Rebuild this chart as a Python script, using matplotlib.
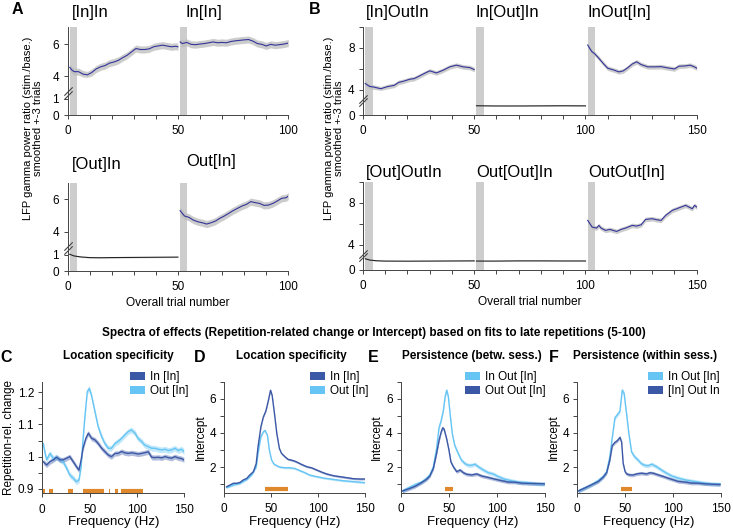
import numpy as np
import matplotlib.pyplot as plt
import matplotlib.transforms as mtrans
from matplotlib.patches import Patch

plt.rcParams['font.family'] = ['Liberation Sans', 'DejaVu Sans']

# ---------------- data: trial-by-trial gamma ratio (A, B) ----------------
# A, top row
a_inin_t = [1, 2, 3, 5, 7, 9, 11, 13, 15, 17, 19, 21, 23, 25, 27, 29, 31, 33, 35, 37, 39, 41, 43, 45, 47, 49, 50]
a_inin_v = [4.57, 4.4, 4.3, 4.3, 4.15, 4.1, 4.25, 4.47, 4.6, 4.68, 4.83, 4.9, 5.0, 5.17, 5.32, 5.53, 5.74,
            5.68, 5.68, 5.72, 5.85, 5.9, 5.95, 5.9, 5.85, 5.88, 5.85]
a_in_in2_t = [51, 52, 54, 56, 58, 60, 62, 64, 66, 68, 70, 72, 74, 76, 78, 80, 82, 84, 86, 88, 90, 92, 94, 96, 98, 100]
a_in_in2_v = [6.15, 6.05, 6.12, 6.0, 5.98, 6.02, 6.05, 6.1, 6.15, 6.1, 6.12, 6.1, 6.18, 6.22, 6.25, 6.28,
              6.3, 6.2, 6.05, 6.0, 5.9, 6.0, 5.95, 5.98, 6.02, 6.08]
# A, bottom row
a_outin_t = [1, 3, 6, 10, 15, 20, 30, 40, 50]
a_outin_v = [1.05, 0.92, 0.86, 0.82, 0.81, 0.82, 0.83, 0.84, 0.85]
a_out_in2_t = [51, 52, 53, 55, 57, 59, 61, 63, 65, 67, 69, 71, 73, 75, 77, 79, 81, 83, 85, 87, 89, 91, 93, 95, 97, 99, 100]
a_out_in2_v = [5.29, 5.12, 4.96, 4.88, 4.71, 4.61, 4.55, 4.47, 4.55, 4.65, 4.82, 4.96, 5.12, 5.29, 5.43,
               5.57, 5.67, 5.84, 5.78, 5.73, 5.61, 5.63, 5.73, 5.88, 6.04, 6.08, 6.18]
# B, top row
b_inoutin_t = [1, 2, 3, 5, 8, 11, 14, 16, 18, 21, 23, 26, 28, 30, 33, 36, 39, 42, 45, 48, 50]
b_inoutin_v = [4.6, 4.45, 4.32, 4.25, 4.1, 4.3, 4.42, 4.7, 4.8, 5.0, 5.06, 5.38, 5.6, 5.8, 5.6, 5.86,
               6.18, 6.34, 6.18, 6.11, 5.92]
b_in_out_in_t = [51, 60, 70, 80, 90, 100]
b_in_out_in_v = [0.88, 0.86, 0.86, 0.87, 0.88, 0.87]
b_inout_in_t = [101, 102, 103, 104, 106, 108, 110, 113, 115, 117, 119, 121, 123, 125, 128, 131, 134, 137,
                140, 142, 145, 147, 149, 150]
b_inout_in_v = [8.26, 7.9, 7.6, 7.46, 7.0, 6.5, 6.05, 5.86, 5.7, 5.8, 6.1, 6.45, 6.66, 6.4, 6.18, 6.18,
                6.2, 6.08, 5.98, 6.24, 6.27, 6.34, 6.18, 6.05]
# B, bottom row
b_outoutin_t = [1, 3, 6, 10, 20, 30, 40, 50]
b_outoutin_v = [1.15, 0.95, 0.88, 0.85, 0.84, 0.85, 0.86, 0.87]
b_out_out_in_t = [51, 60, 70, 80, 90, 100]
b_out_out_in_v = [0.85, 0.85, 0.87, 0.87, 0.86, 0.86]
b_outout_in_t = [101, 103, 105, 106, 107, 109, 111, 114, 116, 118, 121, 123, 125, 127, 130, 132, 134, 136,
                 139, 141, 143, 145, 148, 149, 150]
b_outout_in_v = [6.32, 5.68, 5.59, 5.84, 5.59, 5.37, 5.46, 5.27, 5.46, 5.59, 5.84, 5.78, 5.9, 6.41, 6.48,
                 6.38, 6.32, 6.79, 7.27, 7.43, 7.59, 7.75, 7.43, 7.75, 7.59]

stim_bars = [(1, 4.3), (51, 54.3), (101, 104.3)]

# ---------------- data: spectra (C-F) ----------------
c_in_f = [1, 4.6, 8, 11.6, 15, 18.7, 22, 25.7, 29, 32.7, 36, 38.7, 41, 43, 46, 48.6, 52, 55.6, 59, 62.7,
          66, 69.7, 73, 76.8, 80, 83.8, 87, 90.8, 94, 98, 101, 105, 108, 112, 115.5, 119, 122.5, 126,
          129.6, 133, 136.6, 140, 143.6, 147, 149.6]
c_in_v = [0.984, 0.974, 0.984, 0.99, 0.998, 0.99, 0.99, 0.995, 1.0, 0.984, 0.969, 0.958, 0.99, 1.026,
          1.057, 1.073, 1.057, 1.052, 1.041, 1.026, 1.016, 1.005, 1.0, 1.01, 1.01, 1.016, 1.012, 1.01,
          1.012, 1.01, 1.008, 1.01, 1.012, 1.015, 0.998, 0.997, 0.998, 0.996, 1.0, 0.997, 0.995, 1.0,
          0.996, 0.994, 0.99]
c_out_f = [1, 3, 4.6, 8, 11.6, 15, 18.7, 22, 25.7, 29, 32.7, 36, 38.7, 41, 43, 45, 47.5, 49.6, 52, 55.6,
           59, 62.7, 66, 69.7, 73, 76.8, 80, 83.8, 87, 90.8, 94, 98, 101, 105, 108, 112, 115.5, 119,
           122.5, 126, 129.6, 133, 136.6, 140, 143.6, 147, 149.6]
c_out_v = [1.04, 1.01, 0.99, 1.01, 0.995, 0.998, 0.99, 0.984, 0.964, 0.943, 0.933, 0.922, 0.927, 0.969,
           1.052, 1.124, 1.202, 1.212, 1.19, 1.14, 1.093, 1.062, 1.041, 1.026, 1.026, 1.041, 1.047,
           1.057, 1.067, 1.078, 1.083, 1.073, 1.057, 1.047, 1.036, 1.031, 1.026, 1.026, 1.023, 1.021,
           1.023, 1.019, 1.021, 1.026, 1.019, 1.023, 1.016]
c_sig = [(1, 3), (7.5, 11), (27, 32), (43, 65), (70, 71), (77, 80), (83, 106)]

d_in_f = [2.5, 6, 9.6, 13, 16.7, 20, 24, 27, 31, 34, 36, 39, 41.6, 44.4, 47, 49.3, 51, 53.5, 56, 58.7,
          61, 64.7, 68, 72, 75, 79, 82.5, 88, 93, 98.5, 104, 109, 116, 123, 130.5, 137.6, 144.7, 149.3]
d_in_v = [0.85, 0.95, 1.05, 1.05, 1.1, 1.24, 1.34, 1.53, 1.73, 2.2, 3.2, 4.35, 4.93, 5.3, 5.9, 6.5, 6.2,
          5.13, 3.96, 3.09, 2.8, 2.6, 2.45, 2.4, 2.35, 2.25, 2.15, 2.02, 1.96, 1.83, 1.7, 1.6, 1.5, 1.44,
          1.38, 1.32, 1.3, 1.3]
d_out_f = [2.5, 9.6, 16.7, 24, 29, 34, 36, 39, 41.6, 43.4, 46, 48, 50.5, 53, 56, 59, 64.7, 70, 75, 80.7,
           86, 91, 98.5, 105.6, 116, 127, 137.6, 149.3]
d_out_v = [0.8, 0.95, 1.05, 1.28, 1.53, 2.0, 2.8, 3.77, 4.06, 4.15, 3.86, 3.0, 2.4, 2.17, 2.08, 2.0, 1.96,
           1.96, 1.92, 1.79, 1.67, 1.53, 1.44, 1.36, 1.28, 1.2, 1.15, 1.09]
d_sig = [(43, 68)]

e_io_f = [1.4, 7.6, 14.6, 21.5, 26.7, 30, 33.7, 37, 39.6, 41.7, 44, 46, 47.6, 49.3, 51.4, 53.5, 56, 59.7,
          63, 66.7, 70, 73.6, 77, 80.5, 85.8, 91, 96, 101, 108, 115, 122, 129, 136, 143, 149.3]
e_io_v = [0.6, 0.78, 0.97, 1.12, 1.35, 1.54, 2.02, 3.07, 4.3, 4.7, 5.27, 6.13, 6.5, 6.13, 4.98, 3.93,
          3.26, 2.78, 2.4, 2.2, 2.11, 2.11, 2.17, 2.02, 1.83, 1.67, 1.6, 1.45, 1.29, 1.2, 1.12, 1.1, 1.06,
          1.02, 1.0]
e_oo_f = [1.4, 7.6, 14.6, 21.5, 26.7, 30, 33.7, 37, 39.6, 41.7, 43.4, 45, 47.6, 50, 52, 54.5, 58, 61.5,
          65, 68.4, 73.6, 78.8, 84, 91, 98, 105, 111.8, 118.8, 125.7, 136, 149.3]
e_oo_v = [0.6, 0.72, 0.87, 1.1, 1.29, 1.48, 1.92, 2.78, 3.55, 4.03, 4.3, 4.2, 3.64, 2.98, 2.3, 2.02, 1.73,
          1.83, 1.67, 1.58, 1.54, 1.6, 1.48, 1.39, 1.29, 1.2, 1.12, 1.12, 1.06, 1.04, 1.02]
e_sig = [(45.8, 54.5)]

f_io_f = [1, 8, 15, 22, 27, 30.7, 34, 36.6, 39.4, 42, 44.6, 47, 49, 51.6, 54, 56.8, 60, 63.8, 67, 70.8,
          74, 77.8, 83, 88, 93.5, 98.7, 105.7, 112.7, 119.6, 126.6, 133.6, 140.6, 149.3]
f_io_v = [0.6, 0.78, 0.97, 1.22, 1.45, 1.73, 2.6, 3.74, 4.89, 5.08, 5.27, 6.51, 6.3, 5.08, 3.93, 2.88,
          2.6, 2.4, 2.2, 2.1, 2.08, 2.17, 2.02, 1.83, 1.64, 1.48, 1.35, 1.25, 1.18, 1.12, 1.06, 1.02, 1.0]
f_ioi_f = [1, 8, 15, 22, 27, 30.7, 34, 36.6, 39.4, 42, 44.6, 46.4, 48, 50, 51.6, 55, 58.6, 62, 67, 72.5,
           76, 79.5, 84.8, 90, 95, 100.5, 105.7, 112.7, 119.6, 126.6, 133.6, 140.6, 149.3]
f_ioi_v = [0.6, 0.78, 0.97, 1.16, 1.41, 1.67, 2.4, 3.26, 3.45, 3.55, 3.74, 3.45, 2.21, 1.73, 1.6, 1.54,
           1.54, 1.6, 1.64, 1.6, 1.67, 1.64, 1.54, 1.45, 1.35, 1.25, 1.16, 1.12, 1.06, 1.06, 1.02, 1.0, 0.98]
f_sig = [(45.7, 56.8)]

# ---------------- style ----------------
LINE = '#34349a'
BAND = '#bcbcbc'
BAR = '#cdcdcd'
DARK = '#3b58a6'
LIGHT = '#66c5f4'
ORANGE = '#e0892c'
AX = '#444444'

W, H = 733, 530
fig = plt.figure(figsize=(W / 100, H / 100), dpi=100)


def box(l, t, r, b):
    return fig.add_axes([l / W, 1 - b / H, (r - l) / W, (b - t) / H])


def style(ax, fs=8.5):
    for s in ['top', 'right']:
        ax.spines[s].set_visible(False)
    for s in ['left', 'bottom']:
        ax.spines[s].set_linewidth(0.7)
        ax.spines[s].set_color(AX)
    ax.tick_params(length=3, width=0.7, color=AX, labelsize=fs, pad=3)
    ax.tick_params(axis='x', pad=4.5)


# broken y axis: 0-1 at normal scale, 1-4 squeezed
def fwd(y):
    y = np.asarray(y, float)
    return np.where(y <= 1, y, np.where(y >= 4, y - 1.6, 1 + (y - 1) * 1.4 / 3))


def inv(v):
    v = np.asarray(v, float)
    return np.where(v <= 1, v, np.where(v >= 2.4, v + 1.6, 1 + (v - 1) * 3 / 1.4))


def trial_panel(ax, segs, titles, xmax, ytop, yticks, ylabels):
    ax.set_yscale('function', functions=(fwd, inv))
    ax.set_xlim(0, xmax)
    ax.set_ylim(0, ytop)
    for x0, x1 in stim_bars:
        if x0 < xmax:
            ax.axvspan(x0, x1, color=BAR, lw=0, zorder=0)
    for t, v, kind in segs:
        t = np.array(t)
        v = np.array(v)
        if kind == 'blue':
            ax.fill_between(t, v - 0.22, v + 0.22, color=BAND, alpha=0.75, lw=0, zorder=1)
            ax.plot(t, v, color=LINE, lw=0.8, zorder=2)
        else:
            ax.fill_between(t, v - 0.03, v + 0.03, color=BAND, alpha=0.6, lw=0, zorder=1)
            ax.plot(t, v, color='#222222', lw=0.8, zorder=2)
    tr = mtrans.blended_transform_factory(ax.transData, ax.transAxes)
    for x, y, label in titles:
        ax.text(x, y, label, transform=tr, fontsize=12, ha='left', va='center')
    ax.set_xticks(np.arange(0, xmax + 1, 10))
    ax.set_xticklabels([str(x) if x % 50 == 0 else '' for x in range(0, xmax + 1, 10)])
    ax.set_yticks(yticks)
    ax.set_yticklabels(ylabels)
    ax.minorticks_off()
    style(ax)
    ax.plot([0, 0], [1.55, 2.1], ls='none', marker=[(-1, -1), (1, 1)], ms=6, mew=0.8,
            color=AX, clip_on=False, zorder=5)


ax = box(67.5, 26.7, 288.3, 115)
trial_panel(ax, [(a_inin_t, a_inin_v, 'blue'), (a_in_in2_t, a_in_in2_v, 'blue')],
            [(2, 1.16, '[In]In'), (53.5, 1.16, 'In[In]')], 100, 7.1, [0, 1, 4, 6], ['0', '1', '4', '6'])
ax = box(67.5, 183.3, 288.3, 271)
trial_panel(ax, [(a_outin_t, a_outin_v, 'black'), (a_out_in2_t, a_out_in2_v, 'blue')],
            [(1.8, 1.21, '[Out]In'), (53.8, 1.25, 'Out[In]')], 100, 6.96, [0, 1, 4, 6], ['0', '1', '4', '6'])
ax = box(363, 26.7, 696.7, 115)
trial_panel(ax, [(b_inoutin_t, b_inoutin_v, 'blue'), (b_in_out_in_t, b_in_out_in_v, 'black'),
                 (b_inout_in_t, b_inout_in_v, 'blue')],
            [(1.5, 1.16, '[In]OutIn'), (50.5, 1.16, 'In[Out]In'), (101, 1.16, 'InOut[In]')],
            150, 10, [0, 4, 6, 8, 10], ['0', '4', '', '8', ''])
ax = box(363, 181.7, 696.7, 270)
trial_panel(ax, [(b_outoutin_t, b_outoutin_v, 'black'), (b_out_out_in_t, b_out_out_in_v, 'black'),
                 (b_outout_in_t, b_outout_in_v, 'blue')],
            [(1.5, 1.1, '[Out]OutIn'), (50.8, 1.1, 'Out[Out]In'), (101.3, 1.1, 'OutOut[In]')],
            150, 10, [0, 4, 6, 8, 10], ['0', '4', '', '8', ''])

ylab = 'LFP gamma power ratio (stim./base.)\nsmoothed +-3 trials'
for x in (33, 334):
    fig.text(x / W, 1 - 128 / H, ylab, rotation=90, ha='center', va='center', fontsize=8,
             linespacing=1.0, multialignment='center')
fig.text(178 / W, 1 - 303 / H, 'Overall trial number', ha='center', va='center', fontsize=8.6)
fig.text(530 / W, 1 - 302 / H, 'Overall trial number', ha='center', va='center', fontsize=8.6)

# ---------------- spectra ----------------
fig.text(374 / W, 1 - 333 / H,
         'Spectra of effects (Repetition-related change or Intercept) based on fits to late repetitions (5-100)',
         ha='center', va='center', fontsize=8.5, weight='bold')


def spectrum(ax, curves, legend_order, sig, sig_y, ylim, major, minor, ylabel, title, tx, leg_xy):
    for f, v, col, band, lab in curves:
        f = np.array(f)
        v = np.array(v)
        ax.fill_between(f, v - band, v + band, color=col, alpha=0.4, lw=0)
        ax.plot(f, v, color=col, lw=1.0)
    for x0, x1 in sig:
        ax.plot([x0, x1], [sig_y, sig_y], color=ORANGE, lw=3, solid_capstyle='butt')
    ax.set_xlim(0, 150)
    ax.set_ylim(*ylim)
    ax.set_xticks([0, 50, 100, 150])
    ax.set_yticks(major)
    ax.set_yticks(minor, minor=True)
    ax.set_ylabel(ylabel, fontsize=8.5, labelpad=2)
    ax.set_xlabel('Frequency (Hz)', fontsize=9.5, labelpad=0.5)
    style(ax)
    ax.tick_params(which='minor', length=3, width=0.7, color=AX)
    fig.text(tx / W, 1 - 356 / H, title, ha='center', va='center', fontsize=8.5, weight='bold')
    handles = [Patch(facecolor=curves[i][2], edgecolor='none', label=curves[i][4]) for i in legend_order]
    fig.legend(handles=handles, loc='upper left', bbox_to_anchor=(leg_xy[0] / W, 1 - leg_xy[1] / H),
               frameon=False, fontsize=8.5, handlelength=1.3, handleheight=0.6, handletextpad=0.4,
               labelspacing=0.2, borderpad=0, borderaxespad=0)


ax = box(42.3, 381.7, 184.3, 493.3)
spectrum(ax, [(c_out_f, c_out_v, LIGHT, 0.009, 'Out [In]'), (c_in_f, c_in_v, DARK, 0.008, 'In [In]')],
         [1, 0], c_sig, 0.893, (0.886, 1.233), [0.9, 1.0, 1.1, 1.2], [0.95, 1.05, 1.15],
         'Repetition-rel. change', 'Location specificity', 118, (130, 371))
ax.set_yticklabels(['0.9', '1', '1.1', '1.2'])

ax = box(224.3, 381.7, 365, 492.7)
spectrum(ax, [(d_out_f, d_out_v, LIGHT, 0.06, 'Out [In]'), (d_in_f, d_in_v, DARK, 0.06, 'In [In]')],
         [1, 0], d_sig, 0.72, (0.5, 6.96), [2, 4, 6], [1, 3, 5, 7], 'Intercept', 'Location specificity',
         291, (310, 371))
ax = box(401, 381.7, 545, 492.7)
spectrum(ax, [(e_io_f, e_io_v, LIGHT, 0.12, 'In Out [In]'), (e_oo_f, e_oo_v, DARK, 0.1, 'Out Out [In]')],
         [0, 1], e_sig, 0.72, (0.5, 6.96), [2, 4, 6], [1, 3, 5, 7], 'Intercept', 'Persistence (betw. sess.)',
         472, (465, 371))
ax = box(577.3, 381.7, 720.7, 492.7)
spectrum(ax, [(f_io_f, f_io_v, LIGHT, 0.12, 'In Out [In]'), (f_ioi_f, f_ioi_v, DARK, 0.1, '[In] Out In')],
         [0, 1], f_sig, 0.72, (0.5, 6.96), [2, 4, 6], [1, 3, 5, 7], 'Intercept', 'Persistence (within sess.)',
         645, (648, 371))

# panel letters
for x, y, s in [(17, 9, 'A'), (315, 9, 'B'), (6, 357, 'C'), (200, 357, 'D'), (373, 357, 'E'), (554, 357, 'F')]:
    fig.text(x / W, 1 - y / H, s, ha='center', va='center', fontsize=11.5, weight='bold')

fig.savefig('out.png', dpi=100)
